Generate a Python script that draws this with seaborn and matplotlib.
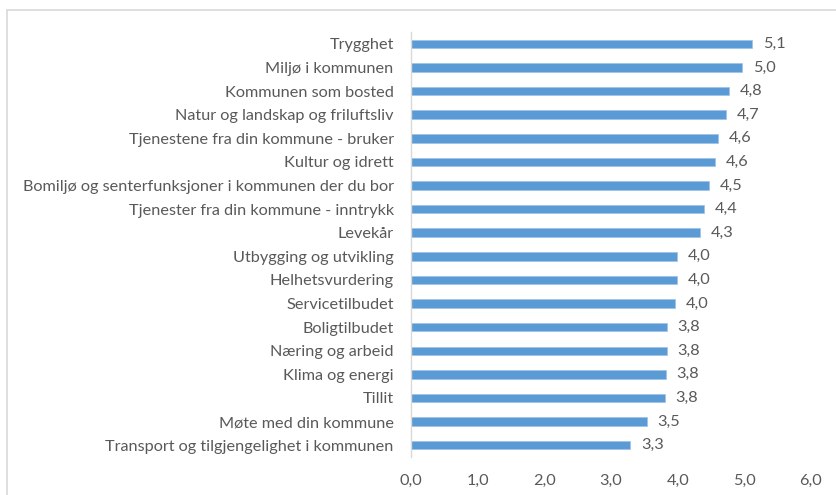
import matplotlib
matplotlib.use('Agg')
import matplotlib.pyplot as plt
import seaborn as sns
import pandas as pd

categories = [
    "Trygghet",
    "Miljø i kommunen",
    "Kommunen som bosted",
    "Natur og landskap og friluftsliv",
    "Tjenestene fra din kommune - bruker",
    "Kultur og idrett",
    "Bomiljø og senterfunksjoner i kommunen der du bor",
    "Tjenester fra din kommune - inntrykk",
    "Levekår",
    "Utbygging og utvikling",
    "Helhetsvurdering",
    "Servicetilbudet",
    "Boligtilbudet",
    "Næring og arbeid",
    "Klima og energi",
    "Tillit",
    "Møte med din kommune",
    "Transport og tilgjengelighet i kommunen",
]
scores = [5.12, 4.97, 4.77, 4.73, 4.61, 4.56, 4.47, 4.39, 4.33,
          3.99, 3.99, 3.96, 3.84, 3.84, 3.82, 3.81, 3.54, 3.29]
x_ticks = [0, 1, 2, 3, 4, 5, 6]

df = pd.DataFrame({"kategori": categories, "score": scores})

sns.set_style("white")
plt.rcParams['font.family'] = ['Lato', 'DejaVu Sans']
text_color = "#595959"

fig = plt.figure(figsize=(8.36, 4.95), dpi=100)
ax = fig.add_axes([411 / 836, 1 - 457 / 495, 400 / 836, 425 / 495])

sns.barplot(data=df, x="score", y="kategori", color="#5b9bd5", width=0.36,
            saturation=1, edgecolor="#9dc3e6", linewidth=0.5, ax=ax)

# value labels with comma decimals
for i, v in enumerate(scores):
    ax.text(v + 0.16, i, f"{v:.1f}".replace(".", ","), va="center", ha="left",
            fontsize=11.7, color=text_color)

ax.set_xlim(0, 6)
ax.set_ylim(len(categories) - 0.5, -0.5)
ax.set_xticks(x_ticks)
ax.set_xticklabels([f"{t:.1f}".replace(".", ",") for t in x_ticks],
                   fontsize=11.7, color=text_color)
ax.tick_params(axis="y", labelsize=11.7, labelcolor=text_color, length=0, pad=12.5)
ax.tick_params(axis="x", length=0, pad=12)
ax.set_xlabel("")
ax.set_ylabel("")
for s in ["top", "right", "bottom"]:
    ax.spines[s].set_visible(False)
ax.spines["left"].set_color("#d9d9d9")
ax.spines["left"].set_linewidth(1)

# chart area frame (cut off at right and bottom)
frame = plt.Rectangle((7 / 836, -0.1), 1.2, 1 - 10 / 495 + 0.1,
                      transform=fig.transFigure, fill=False,
                      edgecolor="#d9d9d9", linewidth=1.2)
fig.patches.append(frame)

fig.savefig("out.png", dpi=100)
